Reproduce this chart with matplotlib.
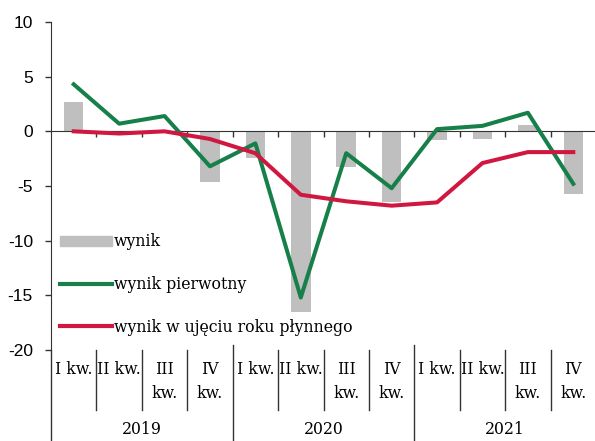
import matplotlib
matplotlib.use("Agg")
import matplotlib.pyplot as plt
import numpy as np
from matplotlib.lines import Line2D
from matplotlib.patches import Patch

quarters = ["I kw.", "II kw.", "III\nkw.", "IV\nkw."] * 3
years = ["2019", "2020", "2021"]
wynik = [2.7, 0.0, 0.0, -4.6, -2.4, -16.5, -3.3, -6.5, -0.8, -0.7, 0.6, -5.7]
wynik_pierwotny = [4.3, 0.7, 1.4, -3.2, -1.1, -15.2, -2.0, -5.2, 0.2, 0.5, 1.7, -4.8]
wynik_roku = [0.0, -0.2, 0.0, -0.7, -2.0, -5.8, -6.4, -6.8, -6.5, -2.9, -1.9, -1.9]
legend_labels = ["wynik", "wynik pierwotny", "wynik w ujęciu roku płynnego"]

W, H = 595, 441
fig = plt.figure(figsize=(W / 100, H / 100), dpi=100)
ax = fig.add_axes([51 / W, 1 - 350 / H, (596 - 51) / W, (350 - 22) / H])

x = np.arange(len(wynik))
serif = ["DejaVu Serif"]
sans = ["Liberation Sans", "DejaVu Sans"]
GREEN = "#17804a"
RED = "#d0173f"
GRAY = "#bfbfbf"

ax.bar(x, wynik, width=0.43, color=GRAY, zorder=1)
ax.plot(x, wynik_pierwotny, color=GREEN, lw=2.9, zorder=3)
ax.plot(x, wynik_roku, color=RED, lw=2.9, zorder=4)

ax.set_xlim(-0.5, len(wynik) - 0.5)
ax.set_ylim(-20, 10)
ax.set_yticks([10, 5, 0, -5, -10, -15, -20])
ax.set_yticklabels(["10", "5", "0", "-5", "-10", "-15", "-20"], fontfamily=sans, fontsize=12.5)
ax.tick_params(axis="y", direction="out", length=4, width=1, pad=9, color="#333333")

ax.spines["top"].set_visible(False)
ax.spines["right"].set_visible(False)
ax.spines["bottom"].set_position(("data", 0))
ax.spines["bottom"].set_color("#333333")
ax.spines["left"].set_color("#333333")
ax.set_xticks(np.arange(0.5, len(wynik) - 0.5, 1))
ax.set_xticklabels([])
ax.tick_params(axis="x", direction="out", length=4, width=1, color="#333333")

trans = ax.get_xaxis_transform()
px = 1 / 328.0  # axes fraction per pixel vertically

# extend left spine to bottom of figure
ax.add_line(Line2D([-0.5, -0.5], [0, -(441 - 350) * px], transform=trans,
                   color="#333333", lw=1, clip_on=False))

# category labels and separators
for i, q in enumerate(quarters):
    ax.text(i, -(361 - 350) * px, q, transform=trans, ha="center", va="top",
            fontfamily=serif, fontsize=11.3, linespacing=1.55)
for b in range(1, len(wynik)):
    if b % 4 == 0:
        y0, y1 = (350 - 345) * px, -(441 - 350) * px
    else:
        y0, y1 = 0, -(410 - 350) * px
    ax.add_line(Line2D([b - 0.5, b - 0.5], [y0, y1], transform=trans,
                       color="#333333", lw=1, clip_on=False))
for k, yr in enumerate(years):
    ax.text(4 * k + 1.5, -(430 - 350) * px, yr, transform=trans, ha="center", va="center",
            fontfamily=serif, fontsize=11.3)

handles = [Patch(color=GRAY), Line2D([], [], color=GREEN, lw=3), Line2D([], [], color=RED, lw=3)]
fig.legend(handles, legend_labels, loc="upper left",
           bbox_to_anchor=(60 / W, 1 - 233.5 / H), bbox_transform=fig.transFigure,
           frameon=False, borderpad=0, borderaxespad=0, handlelength=3.3,
           handleheight=0.6, handletextpad=0.15, labelspacing=1.63,
           prop={"family": serif, "size": 11.3})

fig.savefig("out.png", dpi=100)
